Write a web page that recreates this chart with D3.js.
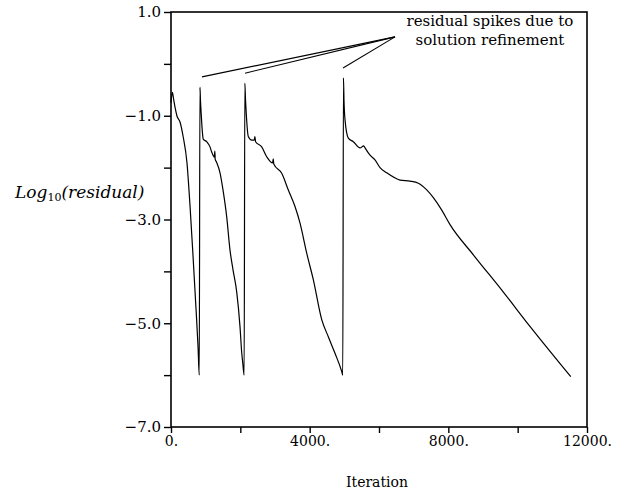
<!doctype html>
<html>
<head>
<meta charset="utf-8">
<title>Residual history</title>
<script src="https://d3js.org/d3.v7.min.js"></script>
<style>
  body { margin: 0; background: #fff; }
  text { font-family: "DejaVu Serif", serif; fill: #000; }
  .axis path { display: none; }
  .axis line { stroke: #000; stroke-width: 1.4px; }
  .axis text { font-size: 14px; }
  .axis.y text { font-size: 15px; }
</style>
</head>
<body>
<svg id="chart" width="625" height="497"></svg>
<script>
// residual history: iteration / log10(residual)
const iterations = [
  0, 40, 80, 120, 170, 260, 350, 460, 550, 635, 720, 780, 815,
  835, 850, 870, 910, 930, 1030, 1125, 1174, 1212, 1250, 1265, 1275, 1318, 1414, 1500, 1607, 1702, 1789, 1896, 1991, 2040, 2069, 2110,
  2130, 2150, 2170, 2184, 2230, 2330, 2400, 2420, 2440, 2617, 2761, 2930, 2950, 2965, 3194, 3384, 3577, 3722, 3915, 4105, 4348, 4538, 4731, 4925, 4955,
  4975, 4990, 5020, 5115, 5260, 5453, 5560, 5597, 5741, 5885, 6030, 6223, 6607, 6895, 7135, 7377, 7568, 7810, 8049, 8721, 9587, 10366, 11532
];
const logResidual = [
  -0.75, -0.55, -0.7, -0.85, -1.0, -1.12, -1.4, -1.9, -2.75, -3.7, -4.7, -5.45, -6.0,
  -0.45, -0.7, -0.95, -1.35, -1.45, -1.5, -1.6, -1.7, -1.76, -1.8, -1.68, -1.84, -1.9, -2.1, -2.43, -2.95, -3.59, -3.97, -4.4, -5.07, -5.57, -5.76, -6.0,
  -0.37, -0.7, -0.95, -1.1, -1.4, -1.47, -1.47, -1.4, -1.5, -1.6, -1.79, -1.91, -1.83, -1.93, -2.11, -2.43, -2.75, -3.07, -3.65, -4.16, -4.93, -5.26, -5.58, -5.93, -6.0,
  -0.27, -0.7, -1.08, -1.43, -1.5, -1.62, -1.58, -1.62, -1.76, -1.85, -2.0, -2.1, -2.24, -2.26, -2.3, -2.43, -2.58, -2.82, -3.1, -3.68, -4.4, -5.07, -6.03
];

const xTicks = [0, 2000, 4000, 6000, 8000, 10000, 12000];
const xLabels = { 0: "0.", 4000: "4000.", 8000: "8000.", 12000: "12000." };
const yTicks = [1, 0, -1, -2, -3, -4, -5, -6, -7];
const yLabels = { 1: "1.0", "-1": "\u22121.0", "-3": "\u22123.0", "-5": "\u22125.0", "-7": "\u22127.0" };

// annotation: label anchor and the three spike tips it points at
const noteLines = ["residual spikes due to", "solution refinement"];
const noteText = { iter: 9200, val: 0.73, step: -0.37 };
const noteAnchor = { iter: 6462, val: 0.52 };
const spikeTips = [
  { iter: 894, val: -0.25 },
  { iter: 2135, val: -0.18 },
  { iter: 4962, val: -0.08 }
];

let svg = d3.select("#chart");
let x = d3.scaleLinear().domain([0, 12000]).range([171, 587]);
let y = d3.scaleLinear().domain([-7, 1]).range([427, 12]);

// x axis
svg.append("g")
  .attr("class", "axis x")
  .attr("transform", "translate(0," + y(-7) + ")")
  .call(d3.axisBottom(x).tickValues(xTicks).tickSize(6).tickPadding(3)
    .tickFormat(function(d) { return xLabels[d] || ""; }));

// y axis
svg.append("g")
  .attr("class", "axis y")
  .attr("transform", "translate(" + x(0) + ",0)")
  .call(d3.axisLeft(y).tickValues(yTicks).tickSize(7).tickPadding(3)
    .tickFormat(function(d) { return yLabels[d] || ""; }));

// frame
svg.append("rect")
  .attr("x", x(0)).attr("y", y(1))
  .attr("width", x(12000) - x(0)).attr("height", y(-7) - y(1))
  .attr("fill", "none").attr("stroke", "#000").attr("stroke-width", 1.6);

// curve
let pts = iterations.map(function(d, i) { return [d, logResidual[i]]; });
let line = d3.line()
  .curve(d3.curveMonotoneX)
  .x(function(d) { return x(d[0]); })
  .y(function(d) { return y(d[1]); });
svg.append("path")
  .datum(pts)
  .attr("d", line)
  .attr("fill", "none")
  .attr("stroke", "#000")
  .attr("stroke-width", 1.2)
  .attr("stroke-linejoin", "round");

// annotation
svg.selectAll(".note-line")
  .data(spikeTips)
  .enter().append("line")
    .attr("class", "note-line")
    .attr("x1", x(noteAnchor.iter)).attr("y1", y(noteAnchor.val))
    .attr("x2", function(d) { return x(d.iter); })
    .attr("y2", function(d) { return y(d.val); })
    .attr("stroke", "#000").attr("stroke-width", 1.1);

svg.selectAll(".note")
  .data(noteLines)
  .enter().append("text")
    .attr("class", "note")
    .attr("x", x(noteText.iter))
    .attr("y", function(d, i) { return y(noteText.val + i * noteText.step); })
    .attr("text-anchor", "middle")
    .style("font-size", "15px")
    .text(function(d) { return d; });

// axis titles
svg.append("text")
  .attr("x", x(6000) - 2)
  .attr("y", 487)
  .attr("text-anchor", "middle")
  .style("font-size", "14px")
  .text("Iteration");

let yt = svg.append("text")
  .attr("x", 15)
  .attr("y", 198)
  .style("font-size", "17px");
yt.append("tspan").style("font-style", "italic").text("Log");
yt.append("tspan").attr("dy", 3).style("font-size", "11px").text("10");
yt.append("tspan").attr("dy", -3).style("font-style", "italic").text("(residual)");
</script>
</body>
</html>
